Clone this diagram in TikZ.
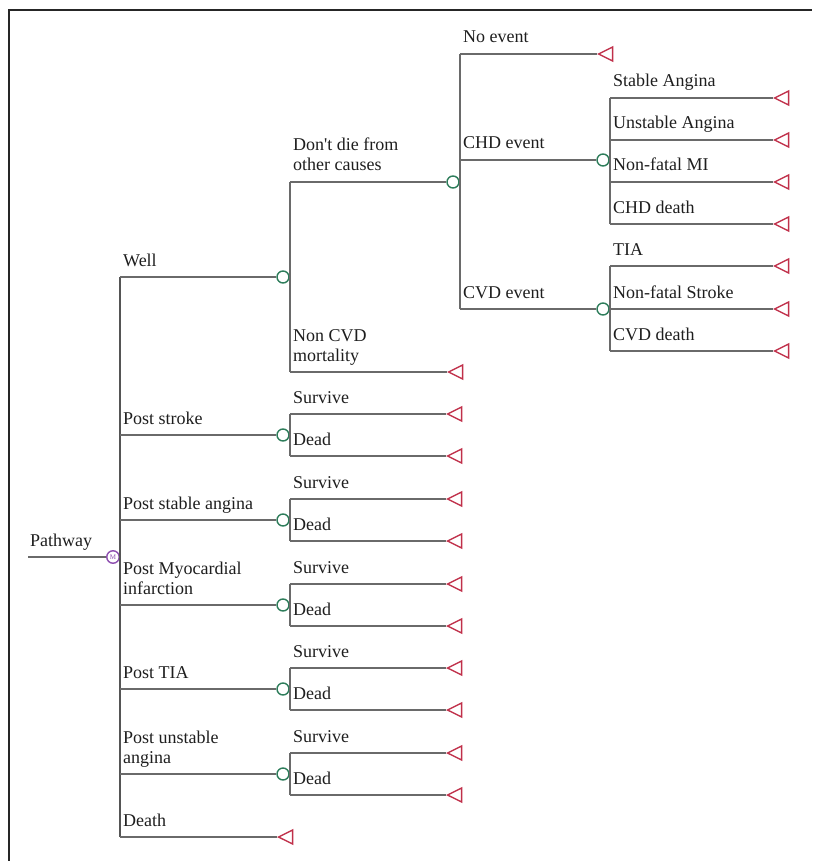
\documentclass[tikz,border=0pt]{standalone}
\usepackage{fontspec}
\setmainfont{Liberation Serif}
\newfontfamily\lserif{Liberation Serif}
\usetikzlibrary{shapes.geometric}
\definecolor{ln}{HTML}{6A6A6A}
\definecolor{chg}{HTML}{2E7D5B}
\definecolor{trm}{HTML}{C0304A}
\definecolor{mkv}{HTML}{8E4FB0}
\definecolor{txt}{HTML}{1E1E1E}
\begin{document}
\begin{tikzpicture}[x=1pt,y=-1pt,
  br/.style={draw=ln, line width=1.6pt},
  chance/.style={circle, draw=chg, line width=1.4pt, fill=white, minimum size=12pt, inner sep=0pt},
  term/.style={isosceles triangle, isosceles triangle apex angle=53, shape border rotate=180, draw=trm, line width=1.4pt, minimum width=14pt, minimum height=14pt, inner sep=0pt, anchor=apex},
  markov/.style={circle, draw=mkv, line width=1.4pt, fill=white, minimum size=12.5pt, inner sep=0pt, font=\lserif\fontsize{7}{7}\selectfont, text=mkv},
  lbl/.style={anchor=base west, inner sep=0pt, font=\lserif\fontsize{18}{20}\selectfont, text=txt, align=left},
]
\useasboundingbox (0,0) rectangle (812,861);
% frame
\coordinate (f1) at (9,861);
\coordinate (f2) at (9,10);
\coordinate (f3) at (812,10);
\draw[line width=2pt, black!85] (f1) -- (f2) -- (f3);

% root
\node[markov] (root) at (113,557) {M};
\coordinate (pstart) at (28,557);
\draw[br] (pstart) -- (root.west);
\node[lbl] (lPath) at (30,546) {Pathway};

% main vertical
\coordinate (a0) at (120,557);
\coordinate (aW) at (120,277);
\coordinate (aS) at (120,435);
\coordinate (aSA) at (120,520);
\coordinate (aMI) at (120,605);
\coordinate (aT) at (120,689);
\coordinate (aUA) at (120,774);
\coordinate (aD) at (120,837);
\draw[br] (root.east) -- (a0);
\draw[br, draw=ln!80!black] (aW) -- (aD);

\node[chance] (cW) at (283,277) {};
\node[chance] (cS) at (283,435) {};
\node[chance] (cSA) at (283,520) {};
\node[chance] (cMI) at (283,605) {};
\node[chance] (cT) at (283,689) {};
\node[chance] (cUA) at (283,774) {};
\node[term] (tD) at (277,837) {};

\draw[br] (aW) -- (cW.west);
\draw[br] (aS) -- (cS.west);
\draw[br] (aSA) -- (cSA.west);
\draw[br] (aMI) -- (cMI.west);
\draw[br] (aT) -- (cT.west);
\draw[br] (aUA) -- (cUA.west);
\draw[br] (aD) -- (tD.apex);

\node[lbl] (lW) at (123,266) {Well};
\node[lbl] (lS) at (123,424) {Post stroke};
\node[lbl] (lSA) at (123,509) {Post stable angina};
\node[lbl] (lMI) at (123,594) {Post Myocardial\\infarction};
\node[lbl] (lT) at (123,678) {Post TIA};
\node[lbl] (lUA) at (123,763) {Post unstable\\angina};
\node[lbl] (lD) at (123,826) {Death};

% Well subtree
\coordinate (bDD) at (290,182);
\coordinate (bNC) at (290,372);
\draw[br] (bDD) -- (bNC);
\node[chance] (cDD) at (453,182) {};
\node[term] (tNC) at (447,372) {};
\draw[br] (bDD) -- (cDD.west);
\draw[br] (bNC) -- (tNC.apex);
\node[lbl] (lDD) at (293,171) {Don't die from\\other causes};
\node[lbl] (lNC) at (293,361) {Non CVD\\mortality};

% Don't die subtree
\coordinate (dNE) at (460,54);
\coordinate (dCHD) at (460,160);
\coordinate (dCVD) at (460,309);
\draw[br] (dNE) -- (dCVD);
\node[term] (tNE) at (597,54) {};
\node[chance] (cCHD) at (603,160) {};
\node[chance] (cCVD) at (603,309) {};
\draw[br] (dNE) -- (tNE.apex);
\draw[br] (dCHD) -- (cCHD.west);
\draw[br] (dCVD) -- (cCVD.west);
\node[lbl] (lNE) at (463,43) {No event};
\node[lbl] (lCHD) at (463,149) {CHD event};
\node[lbl] (lCVD) at (463,298) {CVD event};

% CHD subtree
\coordinate (e1) at (610,98);
\coordinate (e2) at (610,140);
\coordinate (e3) at (610,182);
\coordinate (e4) at (610,224);
\draw[br] (e1) -- (e4);
\node[term] (t1) at (773,98) {};
\node[term] (t2) at (773,140) {};
\node[term] (t3) at (773,182) {};
\node[term] (t4) at (773,224) {};
\draw[br] (e1) -- (t1.apex);
\draw[br] (e2) -- (t2.apex);
\draw[br] (e3) -- (t3.apex);
\draw[br] (e4) -- (t4.apex);
\node[lbl] (l1) at (613,87) {Stable Angina};
\node[lbl] (l2) at (613,129) {Unstable Angina};
\node[lbl] (l3) at (613,171) {Non-fatal MI};
\node[lbl] (l4) at (613,213) {CHD death};

% CVD subtree
\coordinate (g1) at (610,266);
\coordinate (g2) at (610,309);
\coordinate (g3) at (610,351);
\draw[br] (g1) -- (g3);
\node[term] (u1) at (773,266) {};
\node[term] (u2) at (773,309) {};
\node[term] (u3) at (773,351) {};
\draw[br] (g1) -- (u1.apex);
\draw[br] (g2) -- (u2.apex);
\draw[br] (g3) -- (u3.apex);
\node[lbl] (m1) at (613,255) {TIA};
\node[lbl] (m2) at (613,298) {Non-fatal Stroke};
\node[lbl] (m3) at (613,340) {CVD death};

% Survive / Dead groups
\foreach \n/\y in {S/435, SA/520, MI/605, T/689, UA/774} {
  \coordinate (sv\n) at (290,{\y-21});
  \coordinate (dd\n) at (290,{\y+21});
  \draw[br] (sv\n) -- (dd\n);
  \node[term] (tsv\n) at (446,{\y-21}) {};
  \node[term] (tdd\n) at (446,{\y+21}) {};
  \draw[br] (sv\n) -- (tsv\n.apex);
  \draw[br] (dd\n) -- (tdd\n.apex);
  \node[lbl] (lsv\n) at (293,{\y-32}) {Survive};
  \node[lbl] (ldd\n) at (293,{\y+10}) {Dead};
}
\end{tikzpicture}
\end{document}
